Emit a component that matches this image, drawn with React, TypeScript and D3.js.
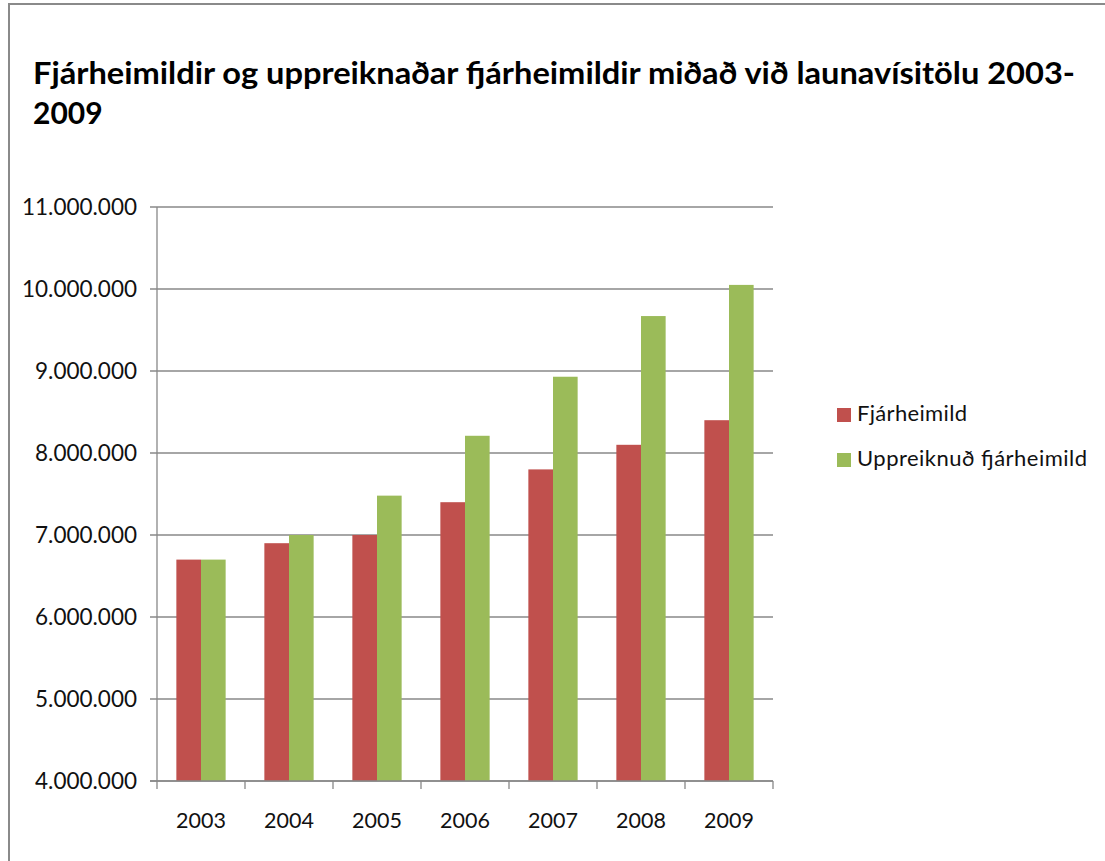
import React from "react";
import * as d3 from "d3";

const years = ["2003", "2004", "2005", "2006", "2007", "2008", "2009"];
const fjarheimild = [6700000, 6900000, 7000000, 7400000, 7800000, 8100000, 8400000];
const uppreiknud = [6700000, 7000000, 7480000, 8210000, 8930000, 9670000, 10050000];
const yTicks = [4000000, 5000000, 6000000, 7000000, 8000000, 9000000, 10000000, 11000000];
const seriesNames = ["Fjárheimild", "Uppreiknuð fjárheimild"];
const seriesColors = ["#C0504D", "#9BBB59"];
const titleLines = [
  "Fjárheimildir og uppreiknaðar fjárheimildir miðað við launavísitölu 2003-",
  "2009",
];

const W = 1105;
const H = 861;
const font = "Lato, 'Open Sans', sans-serif";

const isLocale = d3.formatLocale({ decimal: ",", thousands: ".", grouping: [3], currency: ["", " kr."] });
const fmt = isLocale.format(",d");

const titleWidth = 1042;
const legendWidths = [110, 230];

export default function App() {
  const x = d3.scaleBand<string>().domain(years).range([157, 773]);
  const inner = d3
    .scaleBand<number>()
    .domain([0, 1])
    .range([x.bandwidth() * 0.22, x.bandwidth() * 0.78]);
  const y = d3.scaleLinear().domain([4000000, 11000000]).range([781, 207]);
  const data = [fjarheimild, uppreiknud];

  return (
    <svg
      width={W}
      height={H}
      style={{ position: "absolute", left: 0, top: 0, display: "block", background: "#fff" }}
      fontFamily={font}
    >
      {/* frame */}
      <line x1={9} x2={W} y1={4} y2={4} stroke="#8a8a8a" strokeWidth={2} />
      <line x1={9} x2={9} y1={3} y2={H} stroke="#8a8a8a" strokeWidth={2} />

      {titleLines.map((t, i) => (
        <text
          key={i}
          x={33}
          y={84 + i * 40}
          fontSize={30}
          fontWeight={700}
          fill="#000"
          textLength={i === 0 ? titleWidth : undefined}
          lengthAdjust={i === 0 ? "spacingAndGlyphs" : undefined}
        >
          {t}
        </text>
      ))}

      {/* gridlines */}
      {yTicks.map((t) => (
        <g key={t}>
          <line x1={150} x2={773} y1={y(t)} y2={y(t)} stroke="#888" strokeWidth={1.3} />
          <text x={137} y={y(t)} dy="0.35em" textAnchor="end" fontSize={22.5} fill="#111">
            {fmt(t)}
          </text>
        </g>
      ))}

      {/* bars */}
      {data.map((vals, s) =>
        vals.map((v, i) => (
          <rect
            key={`${s}-${i}`}
            x={(x(years[i]) ?? 0) + (inner(s) ?? 0)}
            y={y(v)}
            width={inner.bandwidth()}
            height={y(4000000) - y(v)}
            fill={seriesColors[s]}
          />
        ))
      )}

      {/* axes */}
      <line x1={157} x2={157} y1={y(11000000)} y2={y(4000000)} stroke="#888" strokeWidth={1.3} />
      <line x1={150} x2={773} y1={y(4000000)} y2={y(4000000)} stroke="#888" strokeWidth={1.3} />
      {[...years.map((d) => x(d) ?? 0), 773].map((px, i) => (
        <line key={i} x1={px} x2={px} y1={y(4000000)} y2={y(4000000) + 8} stroke="#888" strokeWidth={1.3} />
      ))}
      {years.map((d) => (
        <text
          key={d}
          x={(x(d) ?? 0) + x.bandwidth() / 2}
          y={828}
          textAnchor="middle"
          fontSize={21.5}
          fill="#111"
        >
          {d}
        </text>
      ))}

      {/* legend */}
      {seriesNames.map((n, i) => (
        <g key={n} transform={`translate(837, ${408 + i * 45})`}>
          <rect x={0} y={0} width={14} height={14} fill={seriesColors[i]} />
          <text
            x={20}
            y={13}
            fontSize={22}
            fill="#111"
            textLength={legendWidths[i]}
            lengthAdjust="spacing"
          >
            {n}
          </text>
        </g>
      ))}
    </svg>
  );
}
